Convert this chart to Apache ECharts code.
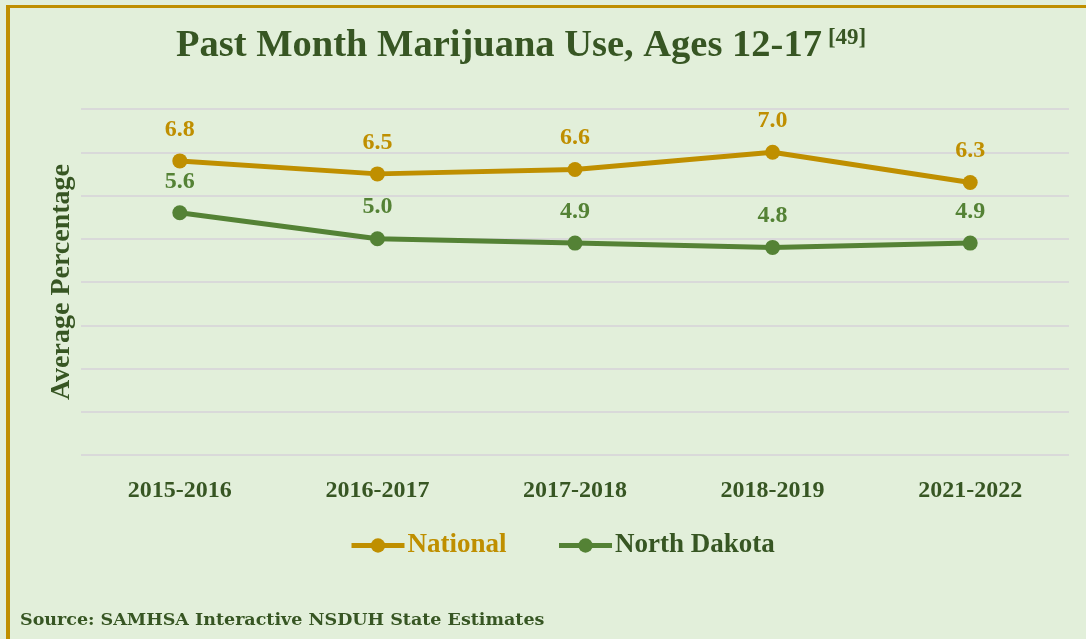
<!DOCTYPE html>
<html>
<head>
<meta charset="utf-8">
<script src="https://cdn.jsdelivr.net/npm/echarts@6/dist/echarts.min.js"></script>
<style>
  html, body { margin: 0; padding: 0; background: #E2EFDA; }
  #frame {
    position: absolute; left: 6px; top: 5px; width: 1090px; height: 640px;
    border-left: 4px solid #BF8F00; border-top: 3px solid #BF8F00;
    box-sizing: border-box;
  }
  #chart { position: absolute; left: 0; top: 0; width: 1086px; height: 639px; }
</style>
</head>
<body>
<div id="frame"></div>
<div id="chart"></div>
<script>
// Past-month marijuana use, ages 12-17 (percent)
const periods = ['2015-2016', '2016-2017', '2017-2018', '2018-2019', '2021-2022'];
const nationalValues = [6.8, 6.5, 6.6, 7.0, 6.3];
const northDakotaValues = [5.6, 5.0, 4.9, 4.8, 4.9];
const seriesNames = ['National', 'North Dakota'];

const GOLD = '#BF8F00';
const GREEN = '#548235';
const DARK = '#375623';
const FONT = '"Liberation Serif", "DejaVu Serif", serif';
const WIDE_FONT = '"DejaVu Serif", serif';

const chart = echarts.init(document.getElementById('chart'), null, { renderer: 'canvas' });

function lineSeries(name, values, color) {
  return {
    name: name,
    type: 'line',
    data: values,
    symbol: 'circle',
    symbolSize: 15,
    lineStyle: { color: color, width: 5 },
    itemStyle: { color: color },
    label: {
      show: true,
      position: 'top',
      distance: 12,
      color: color,
      fontFamily: FONT,
      fontWeight: 'bold',
      fontSize: 24,
      formatter: p => p.value.toFixed(1)
    },
    emphasis: { disabled: true },
    animation: false
  };
}

chart.setOption({
  backgroundColor: 'transparent',
  title: {
    text: '{t|Past Month Marijuana Use, Ages 12-17}{s|[49]}',
    left: 171,
    top: 22,
    textStyle: {
      rich: {
        t: { fontFamily: FONT, fontWeight: 'bold', fontSize: 38.5, color: DARK },
        s: { fontFamily: FONT, fontWeight: 'bold', fontSize: 23, color: DARK, verticalAlign: 'top', padding: [0, 0, 0, 6] }
      }
    }
  },
  grid: { left: 81, right: 17, top: 109, bottom: 184, containLabel: false },
  legend: {
    bottom: 75,
    left: 344,
    itemWidth: 53,
    itemHeight: 18,
    itemGap: 50,
    lineStyle: { width: 5 },
    data: [
      { name: seriesNames[0], textStyle: { color: GOLD } },
      { name: seriesNames[1], textStyle: { color: DARK } }
    ],
    textStyle: { fontFamily: FONT, fontWeight: 'bold', fontSize: 27, padding: [0, 0, 0, -2] }
  },
  xAxis: {
    type: 'category',
    data: periods,
    boundaryGap: true,
    axisLine: { show: false },
    axisTick: { show: false },
    axisLabel: { margin: 24, color: DARK, fontFamily: FONT, fontWeight: 'bold', fontSize: 24 }
  },
  yAxis: {
    type: 'value',
    min: 0,
    max: 8,
    interval: 1,
    name: 'Average Percentage',
    nameLocation: 'middle',
    nameGap: 5,
    nameRotate: 90,
    nameTextStyle: { color: DARK, fontFamily: FONT, fontWeight: 'bold', fontSize: 28 },
    axisLabel: { show: false },
    axisLine: { show: false },
    axisTick: { show: false },
    splitLine: { lineStyle: { color: '#D9D9D9', width: 2 } }
  },
  graphic: [{
    type: 'text',
    left: 20,
    top: 611,
    style: {
      text: 'Source: SAMHSA Interactive NSDUH State Estimates',
      fill: DARK,
      font: 'bold 17.5px ' + WIDE_FONT
    }
  }],
  series: [
    lineSeries(seriesNames[0], nationalValues, GOLD),
    lineSeries(seriesNames[1], northDakotaValues, GREEN)
  ]
});
</script>
</body>
</html>
